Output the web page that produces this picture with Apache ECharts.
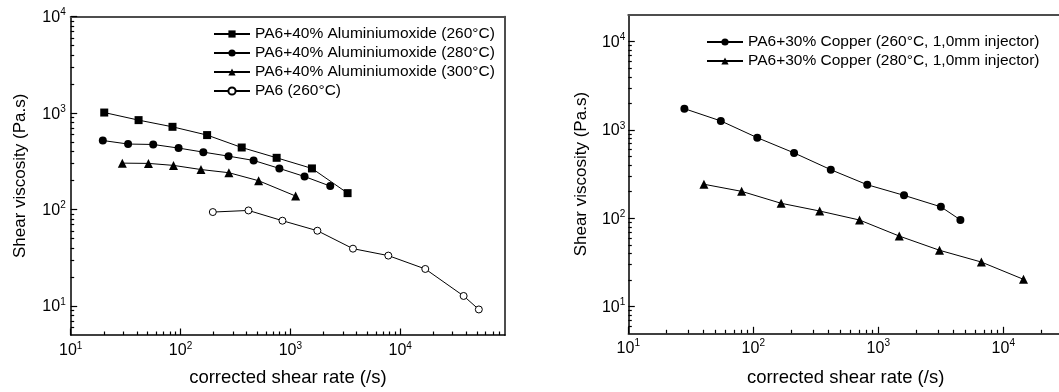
<!DOCTYPE html>
<html>
<head>
<meta charset="utf-8">
<script src="https://cdn.jsdelivr.net/npm/echarts@6/dist/echarts.min.js"></script>
<style>
  html, body { margin: 0; background: #fff; }
  #chart { width: 1059px; height: 392px; }
</style>
</head>
<body>
<div id="chart"></div>
<script>
// Left panel: PA6 + 40% aluminium oxide, corrected shear rate (/s) vs shear viscosity (Pa.s)
const al260Rate = [20.2, 41.5, 84.5, 174.6, 360.6, 750, 1572, 3319]
const al260Visc = [1014, 846, 721, 592, 440, 344, 267, 148]
const al280Rate = [19.6, 33.3, 56.4, 96, 161.3, 273.6, 462.8, 794, 1346, 2307]
const al280Visc = [520, 478, 473, 434, 394, 358, 323, 267, 220, 175]
const al300Rate = [29.5, 51, 86.3, 153.5, 275.6, 514, 1117]
const al300Visc = [303, 301, 287, 260, 241, 199, 138]
const pa6Rate = [196.8, 415.6, 847, 1762, 3715, 7796, 16920, 37800, 52000]
const pa6Visc = [94.2, 97.9, 76.6, 60.3, 39.3, 33.3, 24.2, 12.7, 9.2]

// Right panel: PA6 + 30% copper
const cu260Rate = [28.1, 55, 107.6, 212, 417, 816, 1607, 3168, 4540]
const cu260Visc = [1742, 1265, 818, 550, 355, 240, 182, 135, 96]
const cu280Rate = [40.3, 80.7, 167, 340, 708, 1472, 3090, 6680, 14520]
const cu280Visc = [243, 202, 148, 121, 95.7, 63, 43.5, 32, 20.4]

const leftNames = [
  'PA6+40% Aluminiumoxide (260°C)',
  'PA6+40% Aluminiumoxide (280°C)',
  'PA6+40% Aluminiumoxide (300°C)',
  'PA6 (260°C)',
]
const rightNames = [
  'PA6+30% Copper (260°C, 1,0mm injector)',
  'PA6+30% Copper (280°C, 1,0mm injector)',
]

const xTitle = 'corrected shear rate (/s)'
const yTitle = 'Shear viscosity (Pa.s)'

// Decade ticks (labelled 10^n) and the 2..9 minor ticks between them
const majorTicks = [10, 100, 1000, 10000]
const minorTicks = [
  2, 3, 4, 5, 6, 7, 8, 9,
  20, 30, 40, 50, 60, 70, 80, 90,
  200, 300, 400, 500, 600, 700, 800, 900,
  2000, 3000, 4000, 5000, 6000, 7000, 8000, 9000,
  20000, 30000, 40000, 50000, 60000, 70000, 80000, 90000,
]

const FONT = '"Liberation Sans", Arial, sans-serif'
const pairs = (xs, ys) => xs.map((x, i) => [x, ys[i]])

const labelRich = {
  b: { fontSize: 16, lineHeight: 16, verticalAlign: 'bottom', fontFamily: FONT, color: '#000' },
  s: { fontSize: 10, padding: [0, 0, 8, 0], verticalAlign: 'top', fontFamily: FONT, color: '#000' },
}
const powLabel = (v) => '{b|10}{s|' + Math.round(Math.log10(v)) + '}'

// Three stacked axes per side: labelled decades, minor ticks, and the grey frame edge
function axesFor(grid, min, max, pos, far, cfg) {
  const inside = (v) => v > min && v < max
  const majors = majorTicks.filter((v) => v >= min && v <= max)
  const common = { type: 'log', gridIndex: grid, min, max, splitLine: { show: false } }
  return [
    {
      ...common,
      position: pos,
      axisLine: { onZero: false, lineStyle: { color: '#000', width: 1.5 } },
      axisTick: { inside: true, length: 6.5, customValues: majors, lineStyle: { color: '#000', width: 1.2 } },
      axisLabel: {
        customValues: majors,
        formatter: powLabel,
        rich: labelRich,
        fontSize: 16,
        color: '#000',
        margin: cfg.margin,
      },
      name: cfg.name,
      nameLocation: 'middle',
      nameGap: cfg.nameGap,
      nameMoveOverlap: false,
      nameTextStyle: { fontSize: cfg.nameSize, fontFamily: FONT, color: '#000' },
    },
    {
      ...common,
      position: pos,
      axisLine: { show: false, onZero: false },
      axisTick: { inside: true, length: 3.5, customValues: minorTicks.filter(inside), lineStyle: { color: '#000', width: 1.2 } },
      axisLabel: { show: false },
    },
    {
      ...common,
      position: far,
      axisLine: { onZero: false, lineStyle: { color: '#4d4d4d', width: 2 } },
      axisTick: { show: false },
      axisLabel: { show: false },
    },
  ]
}

function lineSeries(name, data, xi, yi, symbol, size, open) {
  return {
    name,
    type: 'line',
    xAxisIndex: xi,
    yAxisIndex: yi,
    data,
    symbol,
    symbolSize: size,
    showAllSymbol: true,
    lineStyle: { color: '#000', width: 1 },
    itemStyle: open
      ? { color: '#fff', borderColor: '#000', borderWidth: 1 }
      : { color: '#000', borderWidth: 0 },
    emphasis: { disabled: true },
    z: 3,
  }
}

const legendBase = {
  orient: 'vertical',
  padding: 0,
  itemWidth: 36,
  itemHeight: 9,
  itemGap: 0,
  selectedMode: false,
  textStyle: { fontSize: 15.5, lineHeight: 19, fontFamily: FONT, color: '#000' },
}

const chart = echarts.init(document.getElementById('chart'))
chart.setOption({
  animation: false,
  backgroundColor: '#fff',
  textStyle: { fontFamily: FONT },
  grid: [
    { left: 70.7, top: 16.7, width: 434.3, height: 318.3, outerBoundsMode: 'none' },
    { left: 628.3, top: 15, width: 434.6, height: 318.3, outerBoundsMode: 'none' },
  ],
  xAxis: [
    ...axesFor(0, 10, 90000, 'bottom', 'top', { name: xTitle, nameGap: 33, margin: 6, nameSize: 18.5 }),
    ...axesFor(1, 10, 30000, 'bottom', 'top', { name: xTitle, nameGap: 35, margin: 5, nameSize: 18.5 }),
  ],
  yAxis: [
    ...axesFor(0, 5, 10000, 'left', 'right', { name: yTitle, nameGap: 42, margin: 5, nameSize: 17 }),
    ...axesFor(1, 5, 20000, 'left', 'right', { name: yTitle, nameGap: 38, margin: 3, nameSize: 17 }),
  ],
  legend: [
    { ...legendBase, data: leftNames, left: 213, top: 24.5 },
    { ...legendBase, data: rightNames, left: 706, top: 32.5 },
  ],
  series: [
    lineSeries(leftNames[0], pairs(al260Rate, al260Visc), 0, 0, 'rect', 8),
    lineSeries(leftNames[1], pairs(al280Rate, al280Visc), 0, 0, 'circle', 8),
    lineSeries(leftNames[2], pairs(al300Rate, al300Visc), 0, 0, 'triangle', 9),
    lineSeries(leftNames[3], pairs(pa6Rate, pa6Visc), 0, 0, 'circle', 7, true),
    lineSeries(rightNames[0], pairs(cu260Rate, cu260Visc), 3, 3, 'circle', 8),
    lineSeries(rightNames[1], pairs(cu280Rate, cu280Visc), 3, 3, 'triangle', 9),
  ],
})
</script>
</body>
</html>
